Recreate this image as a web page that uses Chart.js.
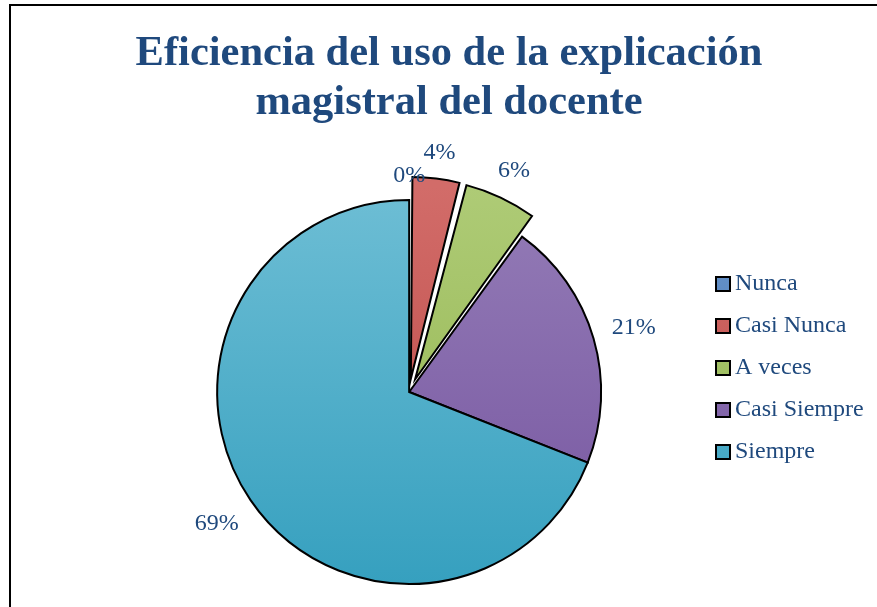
<!DOCTYPE html>
<html><head><meta charset="utf-8">
<script src="https://cdn.jsdelivr.net/npm/chart.js@4.4.0/dist/chart.umd.min.js"></script>
<style>
html,body{margin:0;padding:0;background:#fff;overflow:hidden;width:877px;height:607px;}
#frame{position:absolute;left:9px;top:4px;width:900px;height:700px;border-left:2px solid #000;border-top:2px solid #000;}
#c{position:absolute;left:0;top:0;}
</style></head><body>
<div id="frame"></div>
<canvas id="c" width="877" height="607"></canvas>
<script>
// ---- data ----
const titleLines = ['Eficiencia del uso de la explicación', 'magistral del docente'];
const categories = ['Nunca', 'Casi Nunca', 'A veces', 'Casi Siempre', 'Siempre'];
const percentValues = [0, 4, 6, 21, 69];

// ---- styles ----
const sliceTopColors = ['#6A95CB', '#D26C69', '#AECB76', '#937BB6', '#6CBDD4'];
const sliceBottomColors = ['#3F72B0', '#BB4744', '#93B44E', '#7655A0', '#36A0BF'];
const sliceOffsets = [0, 53, 56, 0, 0];
const textColor = '#1F497D';
const serif = '"Liberation Serif", "Times New Roman", Times, serif';
const PIE_RADIUS = 192;

function sliceFill(ctx) {
  const i = ctx.dataIndex % sliceTopColors.length;
  const area = ctx.chart.chartArea;
  if (!area) return sliceBottomColors[i];
  const cy = (area.top + area.bottom) / 2;
  const g = ctx.chart.ctx.createLinearGradient(0, cy - PIE_RADIUS, 0, cy + PIE_RADIUS);
  g.addColorStop(0, sliceTopColors[i]);
  g.addColorStop(1, sliceBottomColors[i]);
  return g;
}

const placeBlocks = {
  id: 'placeBlocks',
  afterLayout(chart) {
    const t = chart.titleBlock;
    if (t) { const dx = 449 - (t.left + t.right) / 2; t.left += dx; t.right += dx; }
    const lg = chart.legend;
    if (lg) {
      const dx = 705 - lg.left; lg.left += dx; lg.right += dx;
      const dy = 368 - (lg.top + lg.bottom) / 2; lg.top += dy; lg.bottom += dy;
    }
  }
};

const outsideLabels = {
  id: 'outsideLabels',
  afterDatasetsDraw(chart) {
    const meta = chart.getDatasetMeta(0);
    const data = chart.data.datasets[0].data;
    const total = data.reduce((a, b) => a + b, 0);
    const ctx = chart.ctx;
    ctx.save();
    ctx.font = '24px ' + serif;
    ctx.fillStyle = textColor;
    ctx.textAlign = 'center';
    ctx.textBaseline = 'middle';
    meta.data.forEach((arc, i) => {
      const p = arc.getProps(['x', 'y', 'startAngle', 'endAngle', 'outerRadius', 'circumference'], true);
      const mid = (p.startAngle + p.endAngle) / 2;
      const off = (arc.options.offset || 0) / 4;
      const fix = 1 - Math.sin(Math.min(Math.PI, p.circumference || 0));
      const shift = off * (1 + fix);
      const text = Math.round(data[i] / total * 100) + '%';
      const w = ctx.measureText(text).width;
      const d = p.outerRadius + shift + 19 + Math.abs(Math.cos(mid)) * w / 2 + Math.abs(Math.sin(mid)) * 6;
      ctx.fillText(text, p.x + Math.cos(mid) * d, p.y + Math.sin(mid) * d + 1);
    });
    ctx.restore();
  }
};

new Chart(document.getElementById('c'), {
  type: 'pie',
  data: {
    labels: categories,
    datasets: [{
      data: percentValues,
      backgroundColor: sliceFill,
      borderColor: '#000000',
      borderWidth: 2,
      borderJoinStyle: 'miter',
      offset: sliceOffsets,
      radius: PIE_RADIUS
    }]
  },
  options: {
    responsive: false,
    animation: false,
    devicePixelRatio: 1,
    radius: PIE_RADIUS,
    layout: { padding: { left: 110, right: 0, top: 0, bottom: 0 } },
    plugins: {
      title: {
        display: true,
        text: titleLines,
        color: textColor,
        font: { family: serif, size: 42.5, weight: 'bold', lineHeight: 49 / 42.5 },
        padding: { top: 30, bottom: 49 }
      },
      legend: {
        display: true,
        position: 'right',
        labels: {
          color: textColor,
          font: { family: serif, size: 24 },
          usePointStyle: true,
          pointStyle: 'rect',
          boxWidth: 0.01,
          boxHeight: 14,
          padding: 18
        }
      },
      tooltip: { enabled: false }
    }
  },
  plugins: [placeBlocks, outsideLabels]
});
</script>
</body></html>
